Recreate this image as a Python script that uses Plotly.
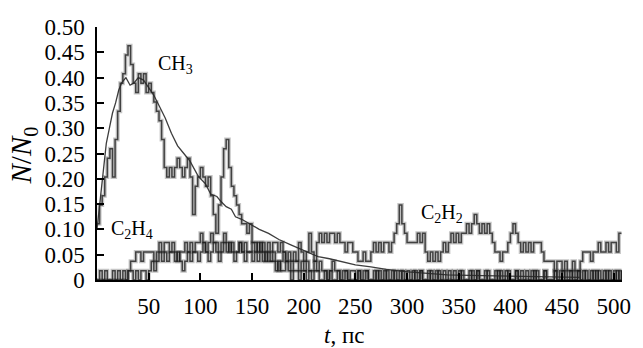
import numpy as np
import plotly.graph_objects as go

# Molecule counts normalised by N0, sampled every 2.5 ps starting at t = 0
N0 = 54
DT = 2.5

ch3_counts = [
    6, 8, 9, 11, 13, 14, 11, 15, 18, 21, 22, 24, 25, 23, 21, 20, 22, 21, 22, 20,
    21, 20, 19, 18, 17, 15, 12, 11, 12, 11, 12, 13, 12, 11, 12, 13, 11, 7, 10, 11,
    12, 11, 10, 11, 9, 7, 5, 8, 11, 14, 15, 12, 10, 9, 8, 7, 6, 6, 5, 6,
    4, 4, 3, 4, 3, 2, 3, 2, 2, 1, 2, 1, 1, 2, 1, 0, 1, 1, 0, 1,
    1, 0, 1, 0, 1, 1, 0, 0, 1, 0, 1, 0, 0, 1, 0, 0, 1, 0, 0, 0,
    0, 1, 0, 0, 1, 0, 0, 0, 1, 0, 0, 1, 0, 0, 0, 1, 0, 0, 1, 0,
    0, 0, 1, 0, 0, 1, 0, 0, 0, 1, 0, 0, 1, 0, 0, 0, 1, 0, 0, 0,
    1, 0, 0, 0, 1, 0, 0, 1, 0, 0, 0, 1, 0, 0, 0, 1, 0, 0, 1, 0,
    0, 0, 1, 0, 0, 0, 1, 0, 0, 1, 0, 0, 0, 1, 0, 0, 0, 1, 0, 0,
    1, 0, 0, 1, 0, 0, 1, 0, 1, 0, 0, 1, 0, 1, 0, 0, 1, 0, 1, 0,
    0, 1, 0, 1,
]

c2h4_counts = [
    0, 0, 0, 0, 0, 0, 0, 0, 0, 0, 0, 0, 1, 2, 2, 3, 3, 2, 3, 3,
    3, 3, 2, 3, 4, 3, 4, 4, 3, 4, 3, 2, 3, 3, 4, 3, 4, 3, 4, 4,
    5, 4, 3, 4, 5, 4, 4, 3, 4, 5, 4, 3, 4, 3, 3, 4, 3, 2, 3, 3,
    2, 3, 2, 3, 2, 3, 2, 2, 3, 2, 1, 2, 3, 2, 2, 1, 2, 2, 1, 2,
    1, 2, 1, 1, 2, 1, 2, 1, 1, 0, 1, 2, 1, 1, 0, 1, 1, 0, 1, 1,
    0, 1, 0, 1, 1, 0, 0, 1, 0, 1, 0, 0, 1, 0, 1, 0, 0, 1, 0, 0,
    1, 0, 0, 1, 0, 1, 0, 0, 1, 0, 0, 1, 0, 0, 1, 0, 0, 0, 1, 0,
    0, 1, 0, 0, 0, 1, 0, 1, 0, 0, 1, 0, 0, 0, 1, 0, 1, 0, 0, 1,
    0, 0, 1, 0, 1, 0, 0, 0, 1, 0, 1, 0, 0, 1, 0, 0, 0, 1, 0, 1,
    0, 1, 0, 0, 1, 0, 1, 0, 0, 1, 0, 0, 1, 0, 1, 0, 0, 1, 0, 0,
    1, 0, 1, 0,
]

c2h2_counts = [
    0, 1, 0, 1, 0, 0, 1, 0, 1, 0, 1, 0, 1, 1, 0, 1, 0, 1, 1, 0,
    1, 2, 1, 2, 3, 2, 3, 2, 3, 3, 2, 3, 2, 1, 2, 3, 2, 3, 3, 2,
    3, 4, 3, 2, 3, 4, 3, 2, 3, 4, 3, 4, 3, 2, 3, 4, 3, 4, 3, 3,
    4, 3, 4, 3, 4, 3, 4, 3, 4, 4, 3, 4, 3, 2, 3, 2, 3, 2, 4, 3,
    2, 3, 5, 3, 2, 4, 5, 4, 5, 4, 5, 5, 4, 5, 4, 4, 3, 4, 4, 3,
    3, 2, 2, 3, 2, 2, 3, 4, 3, 4, 3, 4, 4, 3, 4, 5, 6, 8, 6, 5,
    4, 4, 4, 4, 5, 4, 5, 3, 2, 3, 2, 3, 2, 3, 4, 3, 4, 5, 4, 5,
    4, 5, 5, 6, 5, 6, 7, 6, 5, 6, 5, 6, 5, 4, 3, 3, 2, 3, 3, 4,
    5, 6, 5, 4, 3, 4, 3, 4, 3, 4, 4, 4, 3, 2, 2, 2, 2, 1, 2, 2,
    1, 2, 1, 1, 2, 1, 1, 2, 3, 3, 3, 2, 3, 3, 4, 3, 3, 4, 3, 4,
    4, 3, 5, 5,
]

# Smoothed CH3 curve
fit_t = [0, 3, 6, 9, 12, 15, 18, 21, 24, 28, 32, 36, 40, 45, 50, 55, 60, 66, 72, 78,
         84, 90, 98, 105, 110, 116, 120, 125, 130, 134, 140, 148, 157, 166, 176, 187,
         198, 206, 214, 225, 237, 250, 265, 280, 301, 320, 339, 360, 380, 400, 420,
         440, 455, 467]
fit_v = [0.10, 0.16, 0.22, 0.27, 0.30, 0.33, 0.35, 0.375, 0.39, 0.40, 0.385, 0.39,
         0.40, 0.395, 0.38, 0.365, 0.345, 0.32, 0.29, 0.265, 0.25, 0.235, 0.205, 0.19,
         0.17, 0.165, 0.155, 0.145, 0.14, 0.125, 0.12, 0.11, 0.10, 0.092, 0.08, 0.07,
         0.06, 0.052, 0.046, 0.042, 0.036, 0.03, 0.026, 0.021, 0.016, 0.013, 0.010,
         0.009, 0.008, 0.008, 0.007, 0.006, 0.005, 0.005]

x_ticks = [50, 100, 150, 200, 250, 300, 350, 400, 450, 500]
y_ticks = [0, 0.05, 0.10, 0.15, 0.20, 0.25, 0.30, 0.35, 0.40, 0.45, 0.50]
y_ticktext = ["0", "0.05", "0.10", "0.15", "0.20", "0.25", "0.30", "0.35", "0.40", "0.45", "0.50"]

labels = [
    dict(text="CH<sub>3</sub>", x=57, y=0.425),
    dict(text="C<sub>2</sub>H<sub>4</sub>", x=12, y=0.099),
    dict(text="C<sub>2</sub>H<sub>2</sub>", x=312, y=0.132),
]

FONT = "Liberation Serif, Times New Roman, serif"

fig = go.Figure()
for counts in (c2h4_counts, c2h2_counts, ch3_counts):
    t = np.arange(len(counts)) * DT
    y = np.array(counts) / N0
    # soft wide band under the step trace, giving the smeared look of the original
    fig.add_trace(go.Scatter(
        x=t, y=y, mode="lines", line_shape="hv",
        line=dict(color="rgba(90,90,90,0.35)", width=4), showlegend=False,
        hoverinfo="skip",
    ))
    fig.add_trace(go.Scatter(
        x=t, y=y, mode="lines", line_shape="hv",
        line=dict(color="rgba(20,20,20,0.75)", width=1.5), showlegend=False,
    ))
fig.add_trace(go.Scatter(
    x=fit_t, y=fit_v, mode="lines",
    line=dict(color="rgba(40,40,40,0.9)", width=1.3), showlegend=False,
))

for lab in labels:
    fig.add_annotation(text=lab["text"], x=lab["x"], y=lab["y"], xref="x", yref="y",
                       xanchor="left", yanchor="middle", showarrow=False,
                       font=dict(family=FONT, size=20, color="black"))

fig.add_annotation(text="<i>N</i>/<i>N</i><sub>0</sub>", xref="paper", yref="paper",
                   x=-0.14, y=0.49, textangle=-90, showarrow=False,
                   xanchor="center", yanchor="middle",
                   font=dict(family=FONT, size=29, color="black"))
fig.add_annotation(text="<i>t</i>, пс", xref="paper", yref="paper",
                   x=0.47, y=-0.22, showarrow=False,
                   xanchor="center", yanchor="middle",
                   font=dict(family=FONT, size=23, color="black"))

fig.update_layout(
    width=643, height=348,
    margin=dict(l=97, r=13, t=27, b=68),
    paper_bgcolor="white", plot_bgcolor="white",
    font=dict(family=FONT, size=23, color="black"),
    xaxis=dict(range=[0, 508], tickvals=x_ticks, ticks="inside", ticklen=7,
               tickwidth=1.5, tickcolor="black", showline=True, linewidth=1.5,
               linecolor="black", showgrid=False, zeroline=False,
               ticklabelstandoff=5, tickfont=dict(family=FONT, size=23)),
    yaxis=dict(range=[0, 0.5], tickvals=y_ticks, ticktext=y_ticktext, ticks="inside",
               ticklen=7, tickwidth=1.5, tickcolor="black", showline=True,
               linewidth=1.5, linecolor="black", showgrid=False, zeroline=False,
               ticklabelstandoff=6, tickfont=dict(family=FONT, size=23)),
)

fig.write_html("out.html")
